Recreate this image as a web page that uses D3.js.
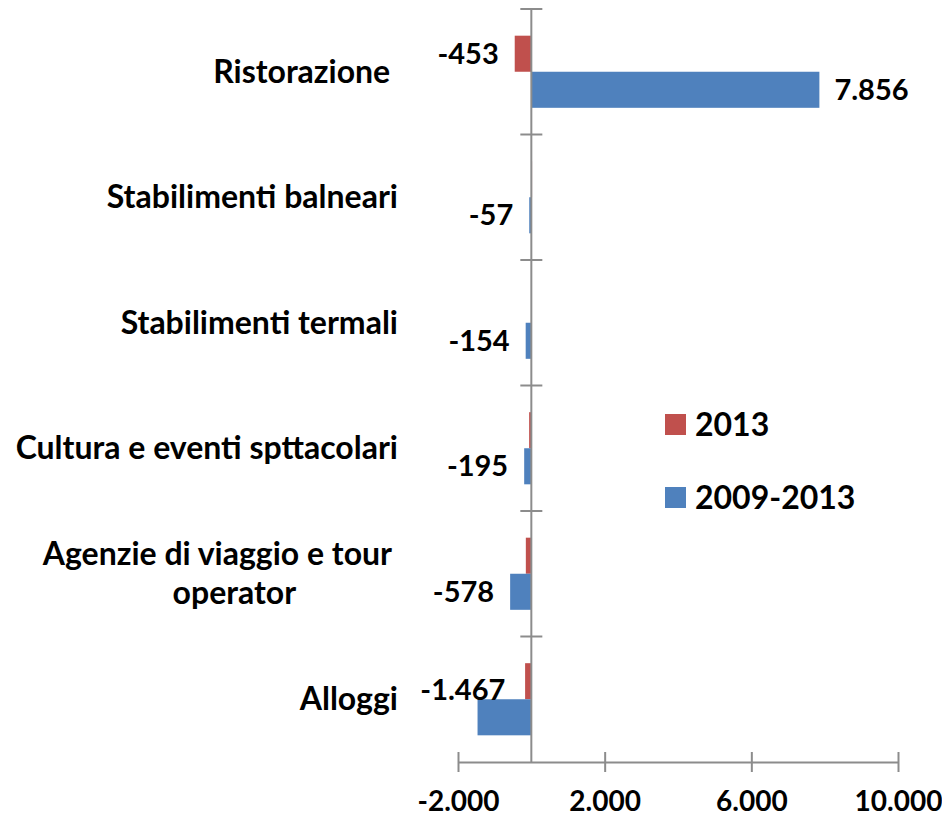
<!DOCTYPE html>
<html>
<head>
<meta charset="utf-8">
<script src="https://cdn.jsdelivr.net/npm/d3@7"></script>
<style>
  body { margin: 0; background: #fff; }
  svg text { font-family: Lato, "Open Sans", sans-serif; font-weight: bold; fill: #000; white-space: pre; }
</style>
</head>
<body>
<script>
var categories = ["Ristorazione ", "Stabilimenti balneari", "Stabilimenti termali", "Cultura e eventi spttacolari", "Agenzie di viaggio e tour operator", "Alloggi"];
var series = ["2013", "2009-2013"];
var values2013 = [-453, 20, 0, -60, -150, -170];
var values0913 = [7856, -57, -154, -195, -578, -1467];
var labelled2013 = ["Ristorazione "];
var xTicks = [-2000, 2000, 6000, 10000];
var colors = ["#C0504D", "#4F81BD"];

var W = 942, H = 818;
var axisColor = "#8c8c8c";

var it = d3.formatLocale({ decimal: ",", thousands: ".", grouping: [3], currency: ["", "€"], minus: "-" });
var fmt = it.format(",d");

var svg = d3.select("body").append("svg")
	.attr("width", W)
	.attr("height", H);

var x = d3.scaleLinear().domain([-2000, 10000]).range([458, 898]);
var y = d3.scaleBand().domain(categories).range([9, 762]);
var ys = d3.scaleBand().domain(series).range([0, y.bandwidth()]).paddingOuter(0.74);

// one row per bar
var rows = [];
categories.forEach(function (c, i) {
	rows.push({ cat: c, s: series[0], v: values2013[i], color: colors[0], label: labelled2013.indexOf(c) >= 0 });
	rows.push({ cat: c, s: series[1], v: values0913[i], color: colors[1], label: true });
});

svg.selectAll("rect.bar")
	.data(rows)
	.enter()
	.append("rect")
	.attr("class", "bar")
	.attr("x", function (d) { return x(Math.min(0, d.v)); })
	.attr("y", function (d) { return y(d.cat) + ys(d.s); })
	.attr("width", function (d) { return Math.abs(x(d.v) - x(0)); })
	.attr("height", ys.bandwidth())
	.attr("fill", function (d) { return d.color; });

// horizontal axis
var xAxis = svg.append("g")
	.attr("transform", "translate(0," + y.range()[1] + ")")
	.call(d3.axisBottom(x).tickValues(xTicks).tickFormat(fmt).tickSizeOuter(0).tickSizeInner(10).tickPadding(19));
xAxis.select(".domain").attr("stroke", axisColor).attr("stroke-width", 2);
xAxis.selectAll(".tick line").attr("y1", -10).attr("stroke", axisColor).attr("stroke-width", 2);
xAxis.selectAll(".tick text").attr("font-size", 28).attr("font-family", null);

// vertical axis at zero, ticks on category boundaries
var x0 = x(0);
svg.append("line")
	.attr("x1", x0).attr("x2", x0)
	.attr("y1", y.range()[0]).attr("y2", y.range()[1])
	.attr("stroke", axisColor).attr("stroke-width", 2);
svg.selectAll("line.ytick")
	.data(d3.range(categories.length))
	.enter()
	.append("line")
	.attr("class", "ytick")
	.attr("x1", x0 - 11).attr("x2", x0 + 11)
	.attr("y1", function (i) { return y.range()[0] + i * y.step(); })
	.attr("y2", function (i) { return y.range()[0] + i * y.step(); })
	.attr("stroke", axisColor).attr("stroke-width", 2);

// category labels
var catLabels = svg.selectAll("text.cat")
	.data(categories)
	.enter()
	.append("text")
	.attr("class", "cat")
	.attr("font-size", 32)
	.attr("text-anchor", "end")
	.attr("x", 398)
	.attr("y", function (d) { return y(d) + y.bandwidth() / 2; })
	.attr("dy", "0.35em")
	.text(function (d) { return d; });

// wrap the long one on two lines
catLabels.each(function (d) {
	var t = d3.select(this);
	if (this.getComputedTextLength() <= 410) return;
	var words = d.split(" ");
	var first = words.slice(0, -1).join(" "), second = words[words.length - 1];
	t.text(null);
	var l1 = t.append("tspan").text(first);
	var w1 = l1.node().getComputedTextLength();
	var cx = 398 - w1 / 2;
	var cy = y(d) + y.bandwidth() / 2;
	t.attr("text-anchor", "middle").attr("dy", null);
	l1.attr("x", cx - 6).attr("y", cy - 19.5).attr("dy", "0.35em");
	t.append("tspan").text(second).attr("x", cx + 11).attr("y", cy + 19.5).attr("dy", "0.35em");
});

// data labels
svg.selectAll("text.val")
	.data(rows.filter(function (d) { return d.label; }))
	.enter()
	.append("text")
	.attr("class", "val")
	.attr("font-size", 29)
	.attr("dy", "0.35em")
	.text(function (d) { return fmt(d.v); })
	.each(function (d) {
		var t = d3.select(this);
		var yc = y(d.cat) + ys(d.s) + ys.bandwidth() / 2;
		var w = this.getComputedTextLength();
		if (d.v >= 0) {
			t.attr("text-anchor", "start").attr("x", x(d.v) + 15).attr("y", yc);
		} else if (x(d.v) - 16 - w < x.range()[0] - 40) {
			// no room on the left: lift it above the bar, next to the axis
			t.attr("text-anchor", "end").attr("x", x0 - 26).attr("y", y(d.cat) + ys(d.s) - 9);
		} else {
			t.attr("text-anchor", "end").attr("x", x(d.v) - 16).attr("y", yc);
		}
	});

// legend
var legend = svg.selectAll("g.leg")
	.data(series)
	.enter()
	.append("g")
	.attr("class", "leg")
	.attr("transform", function (d, i) { return "translate(665," + (414 + i * 73) + ")"; });
legend.append("rect")
	.attr("width", 21).attr("height", 21)
	.attr("fill", function (d, i) { return colors[i]; });
legend.append("text")
	.attr("x", 30).attr("y", 10.5)
	.attr("dy", "0.35em")
	.attr("font-size", 32)
	.text(function (d) { return d; });
</script>
</body>
</html>
